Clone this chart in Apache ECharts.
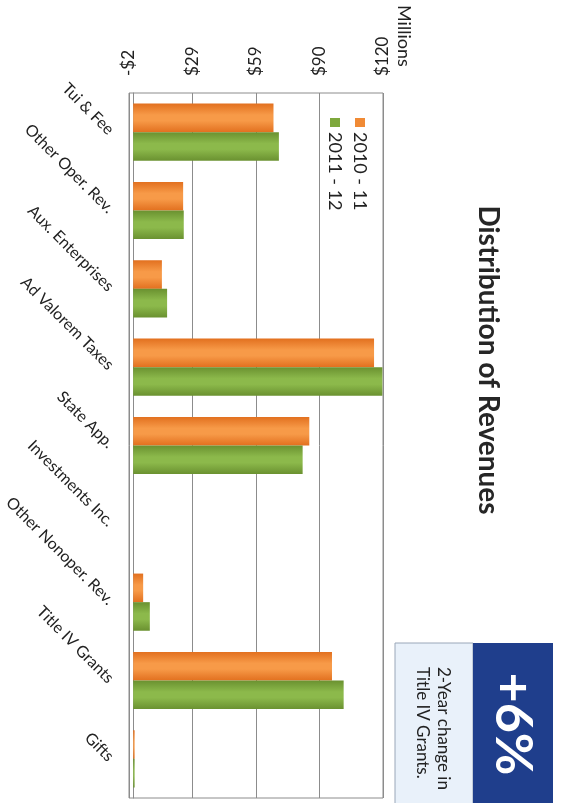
<!DOCTYPE html>
<html>
<head>
<meta charset="utf-8">
<script src="https://cdn.jsdelivr.net/npm/echarts@6/dist/echarts.min.js"></script>
<style>
  html, body { margin: 0; padding: 0; background: #fff; }
  #chart { width: 563px; height: 803px; }
</style>
</head>
<body>
<div id="chart"></div>
<script>
// revenue categories, top to bottom
const categories = ['Tui & Fee', 'Other Oper. Rev.', 'Aux. Enterprises', 'Ad Valorem Taxes',
  'State App.', 'Investments Inc.', 'Other Nonoper. Rev.', 'Title IV Grants', 'Gifts'];
const seriesNames = ['2010 - 11', '2011 - 12'];
// millions of dollars
const rev2010 = [67.4, 24.0, 13.8, 115.7, 84.6, 0, 4.8, 95.5, 0.7];
const rev2011 = [70.0, 24.3, 16.3, 119.7, 81.4, 0, 8.0, 101.1, 0.7];
// value axis: -$2 .. $120, five ticks
const axisMin = -2, axisMax = 120, axisStep = 30.5;

const FONT = 'Lato, "Open Sans", sans-serif';
const orange = ['#e2701f', '#f79a48'];
const green = ['#6a9130', '#8cb94b'];

function barFill(c) {
  return new echarts.graphic.LinearGradient(0, 0, 0, 1, [
    { offset: 0, color: c[0] },
    { offset: 0.4, color: c[1] },
    { offset: 0.6, color: c[1] },
    { offset: 1, color: c[0] }
  ]);
}

let myChart = echarts.init(document.getElementById('chart'));

// rotated texts (the page is turned 90 degrees clockwise)
function vtext(x, y, text, font, color, align) {
  return {
    type: 'text', x: x, y: y, rotation: -Math.PI / 2,
    style: {
      text: text, font: font, fill: color,
      align: align || 'center', textAlign: align || 'center',
      verticalAlign: 'middle', textVerticalAlign: 'middle'
    }
  };
}

myChart.setOption({
  backgroundColor: '#fff',
  animation: false,
  grid: {
    left: 129, right: 180, top: 93, bottom: 5,
    show: true, borderColor: '#8c8c8c', borderWidth: 1
  },
  xAxis: {
    type: 'value',
    position: 'top',
    min: axisMin, max: axisMax, interval: axisStep,
    axisLine: { show: false },
    axisTick: { show: false },
    splitLine: { lineStyle: { color: '#8c8c8c', width: 1 } },
    axisLabel: {
      rotate: -90, margin: 17,
      fontFamily: FONT, fontSize: 17, color: '#222',
      formatter: v => (v < 0 ? '-$' : '$') + Math.abs(Math.round(v))
    }
  },
  yAxis: {
    type: 'category',
    data: categories,
    inverse: true,
    axisLine: { onZero: true, lineStyle: { color: '#8c8c8c' } },
    axisTick: { show: false },
    axisLabel: {
      rotate: -45, margin: 18, interval: 0,
      fontFamily: FONT, fontSize: 16, color: '#222'
    }
  },
  series: [
    {
      name: seriesNames[0], type: 'bar', data: rev2010,
      barGap: '0%', barCategoryGap: '27%',
      itemStyle: { color: barFill(orange) }
    },
    {
      name: seriesNames[1], type: 'bar', data: rev2011,
      barGap: '0%', barCategoryGap: '27%',
      itemStyle: { color: barFill(green) }
    }
  ],
  graphic: [
    vtext(488, 360, 'Distribution of Revenues', 'bold 28px ' + FONT, '#262626'),
    vtext(404, 5, 'Millions', '18px ' + FONT, '#222', 'left'),
    // legend
    { type: 'rect', shape: { x: 355, y: 118, width: 10, height: 9 }, style: { fill: '#f08a35' } },
    vtext(360, 132, seriesNames[0], '18px ' + FONT, '#222', 'left'),
    { type: 'rect', shape: { x: 330, y: 118, width: 10, height: 9 }, style: { fill: '#7ea83c' } },
    vtext(335, 132, seriesNames[1], '18px ' + FONT, '#222', 'left'),
    // callout box
    { type: 'rect', shape: { x: 395, y: 643, width: 78, height: 170 }, style: { fill: '#e9f1fa', stroke: '#9aa7b8', lineWidth: 1 } },
    { type: 'rect', shape: { x: 473, y: 643, width: 80, height: 170 }, style: { fill: '#1f3e8c' } },
    vtext(513, 724, '+6%', 'bold 52px ' + FONT, '#fff'),
    vtext(443, 667, '2-Year change in', '17px ' + FONT, '#222', 'left'),
    vtext(422, 667, 'Title IV Grants.', '17px ' + FONT, '#222', 'left')
  ]
});
</script>
</body>
</html>
